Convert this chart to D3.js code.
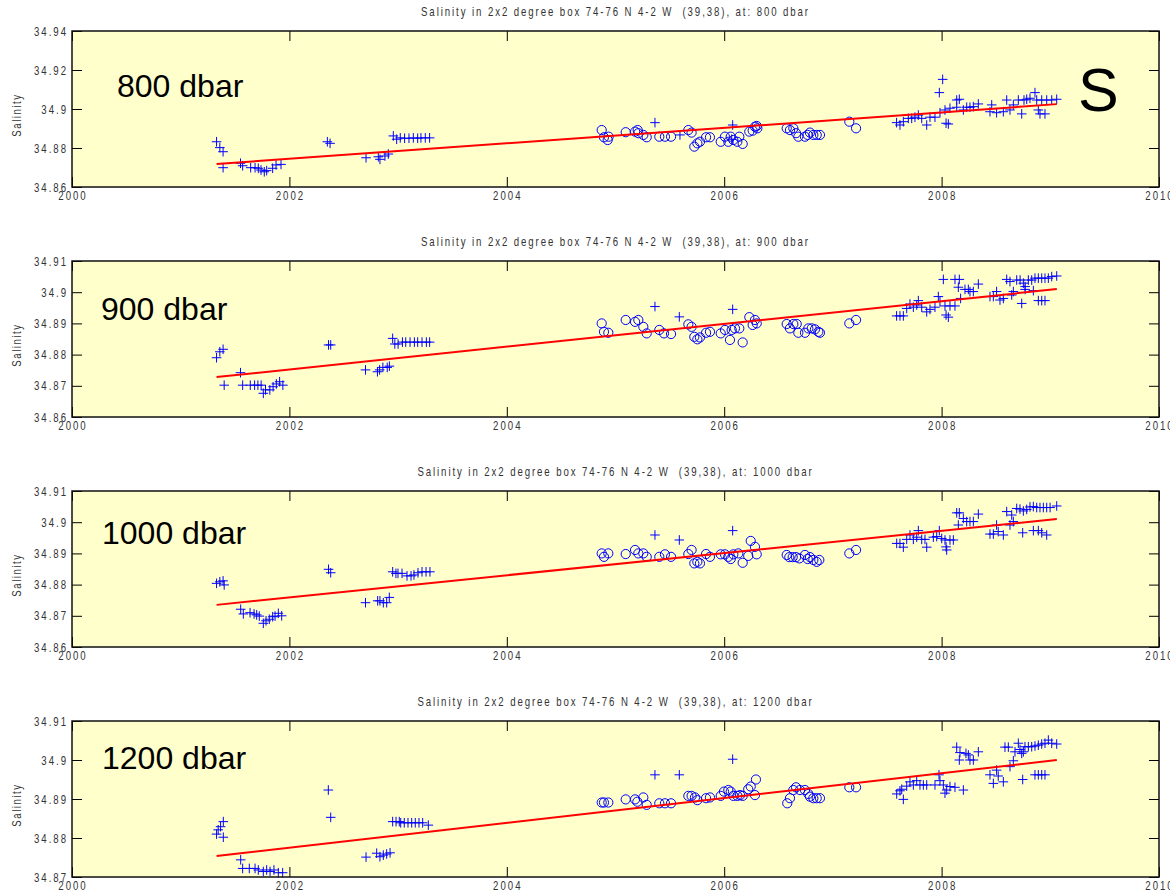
<!DOCTYPE html>
<html>
<head>
<meta charset="utf-8">
<script src="https://cdn.jsdelivr.net/npm/d3@7"></script>
<style>
  html, body { margin: 0; padding: 0; background: #fff; }
  svg text { font-family: "Liberation Sans", Arial, sans-serif; }
</style>
</head>
<body>
<svg id="chart" width="1170" height="895"></svg>
<script>
// ---- data -------------------------------------------------------------
const xTicks = [2000, 2002, 2004, 2006, 2008, 2010];
const depths = ["800", "900", "1000", "1200"];
const depthLabels = ["800 dbar", "900 dbar", "1000 dbar", "1200 dbar"];
const yTicks800  = [34.86, 34.88, 34.9, 34.92, 34.94];
const yTicks900  = [34.86, 34.87, 34.88, 34.89, 34.9, 34.91];
const yTicks1000 = [34.86, 34.87, 34.88, 34.89, 34.9, 34.91];
const yTicks1200 = [34.87, 34.88, 34.89, 34.9, 34.91];

// float profiles (+) as [decimal year, salinity]
const argo800 = [
  [2001.33,34.8832],[2001.36,34.8802],[2001.39,34.8781],[2001.39,34.8699],[2001.55,34.8722],[2001.57,34.8709],
  [2001.644,34.8699],[2001.684,34.8699],[2001.714,34.8696],[2001.739,34.8687],[2001.769,34.8678],[2001.791,34.8684],
  [2001.846,34.8696],[2001.877,34.8713],[2001.923,34.8716],
  [2002.349,34.8832],[2002.374,34.8824],[2002.705,34.8750],[2002.818,34.8755],[2002.833,34.8742],[2002.879,34.8759],
  [2002.910,34.8769],[2002.956,34.8862],[2002.987,34.8845],
  [2003.02,34.8852],[2003.06,34.8850],[2003.10,34.8850],[2003.14,34.8852],[2003.18,34.8850],[2003.21,34.8852],
  [2003.25,34.8852],[2003.29,34.8852],
  [2005.363,34.8930],[2005.593,34.8867],[2006.069,34.8845],[2006.078,34.8918],
  [2007.586,34.8930],[2007.617,34.8918],[2007.648,34.8935],[2007.694,34.8952],[2007.725,34.8952],[2007.755,34.8958],
  [2007.786,34.8969],[2007.817,34.8952],[2007.863,34.8918],[2007.893,34.8958],[2007.939,34.8958],[2007.979,34.9084],
  [2007.985,34.8981],[2008.010,34.9152],[2008.031,34.8995],[2008.041,34.8927],[2008.062,34.8923],[2008.077,34.9004],
  [2008.139,34.9046],[2008.139,34.9009],[2008.163,34.9050],[2008.200,34.8995],[2008.231,34.9009],[2008.261,34.9009],
  [2008.292,34.9012],[2008.338,34.9026],[2008.445,34.8986],[2008.461,34.9021],[2008.506,34.8981],[2008.568,34.8986],
  [2008.599,34.9046],[2008.629,34.8995],[2008.660,34.9021],[2008.706,34.9046],[2008.737,34.8975],[2008.758,34.9046],
  [2008.783,34.9050],[2008.813,34.9055],[2008.859,34.9084],[2008.875,34.9046],[2008.890,34.8995],[2008.905,34.8975],
  [2008.921,34.9046],[2008.951,34.8975],[2008.967,34.9046],[2009.013,34.9046],[2009.059,34.9050]
];
// ship stations (o) as [decimal year, salinity]
const ship800 = [
  [2004.873,34.8892],[2004.894,34.8855],[2004.928,34.8841],[2004.937,34.8858],[2005.094,34.8881],[2005.180,34.8884],
  [2005.204,34.8892],[2005.210,34.8876],[2005.256,34.8867],[2005.287,34.8855],[2005.403,34.8858],[2005.455,34.8858],
  [2005.511,34.8858],[2005.670,34.8892],[2005.700,34.8879],[2005.725,34.8807],[2005.753,34.8824],[2005.777,34.8832],
  [2005.833,34.8855],[2005.869,34.8855],[2005.968,34.8832],[2006.007,34.8858],[2006.038,34.8832],[2006.060,34.8858],
  [2006.084,34.8841],[2006.121,34.8832],[2006.139,34.8858],[2006.170,34.8821],[2006.231,34.8884],[2006.262,34.8889],
  [2006.283,34.8909],[2006.299,34.8913],[2006.305,34.8901],[2006.575,34.8901],[2006.605,34.8892],[2006.636,34.8901],
  [2006.661,34.8876],[2006.682,34.8858],[2006.743,34.8858],[2006.768,34.8867],[2006.789,34.8879],[2006.820,34.8867],
  [2006.851,34.8867],[2006.881,34.8867],[2007.151,34.8935],[2007.213,34.8901]
];
const trend800 = [[2001.33, 34.8718], [2009.06, 34.9025]];

const argo900 = [
  [2001.33,34.8790],[2001.36,34.8809],[2001.39,34.8817],[2001.40,34.8702],[2001.55,34.8742],[2001.57,34.8702],
  [2001.64,34.8702],[2001.68,34.8702],[2001.71,34.8702],[2001.74,34.8702],[2001.76,34.8676],[2001.78,34.8687],
  [2001.82,34.8687],[2001.85,34.8697],[2001.88,34.8706],[2001.91,34.8713],[2001.94,34.8702],
  [2002.36,34.8831],[2002.38,34.8831],[2002.70,34.8751],[2002.81,34.8745],[2002.83,34.8751],[2002.86,34.8759],
  [2002.90,34.8759],[2002.92,34.8763],[2002.95,34.8852],[2002.97,34.8834],[2003.00,34.8834],
  [2003.04,34.8840],[2003.07,34.8840],[2003.11,34.8840],[2003.15,34.8840],[2003.18,34.8840],[2003.22,34.8840],
  [2003.26,34.8840],[2003.29,34.8840],
  [2005.363,34.8954],[2005.587,34.8921],[2006.078,34.8945],
  [2007.586,34.8924],[2007.617,34.8924],[2007.648,34.8924],[2007.679,34.8948],[2007.709,34.8962],[2007.740,34.8952],
  [2007.771,34.8959],[2007.786,34.8973],[2007.817,34.8952],[2007.863,34.8937],[2007.893,34.8945],[2007.939,34.8952],
  [2007.970,34.8986],[2007.985,34.8970],[2008.016,34.9041],[2008.031,34.8956],[2008.041,34.8927],[2008.062,34.8920],
  [2008.077,34.8956],[2008.123,34.8956],[2008.123,34.9041],[2008.154,34.9016],[2008.163,34.9041],[2008.175,34.8980],
  [2008.215,34.9009],[2008.246,34.9009],[2008.261,34.9002],[2008.292,34.9002],[2008.338,34.9026],[2008.445,34.8986],
  [2008.476,34.8986],[2008.506,34.9002],[2008.537,34.8975],[2008.568,34.8980],[2008.599,34.9041],[2008.629,34.9034],
  [2008.645,34.8991],[2008.660,34.9002],[2008.691,34.9039],[2008.722,34.9039],[2008.737,34.8964],[2008.752,34.9029],
  [2008.768,34.9018],[2008.768,34.9009],[2008.798,34.9039],[2008.829,34.9039],[2008.844,34.9005],[2008.859,34.9045],
  [2008.890,34.9045],[2008.890,34.8973],[2008.921,34.9045],[2008.921,34.8973],[2008.951,34.9045],[2008.951,34.8973],
  [2008.982,34.9045],[2009.013,34.9050],[2009.059,34.9052]
];
const ship900 = [
  [2004.873,34.8900],[2004.894,34.8873],[2004.934,34.8870],[2005.094,34.8911],[2005.180,34.8905],[2005.210,34.8911],
  [2005.256,34.8889],[2005.287,34.8868],[2005.403,34.8879],[2005.446,34.8868],[2005.511,34.8866],[2005.670,34.8897],
  [2005.700,34.8889],[2005.725,34.8857],[2005.753,34.8849],[2005.777,34.8855],[2005.833,34.8870],[2005.869,34.8873],
  [2005.968,34.8868],[2006.007,34.8879],[2006.053,34.8847],[2006.069,34.8879],[2006.099,34.8884],[2006.139,34.8884],
  [2006.170,34.8839],[2006.231,34.8920],[2006.262,34.8895],[2006.283,34.8911],[2006.299,34.8900],[2006.575,34.8898],
  [2006.605,34.8884],[2006.636,34.8898],[2006.667,34.8898],[2006.682,34.8870],[2006.743,34.8870],[2006.774,34.8884],
  [2006.805,34.8884],[2006.835,34.8881],[2006.866,34.8873],[2006.881,34.8870],[2007.151,34.8900],[2007.213,34.8911]
];
const trend900 = [[2001.33, 34.8728], [2009.06, 34.9010]];

const argo1000 = [
  [2001.33,34.8804],[2001.36,34.8809],[2001.39,34.8812],[2001.40,34.8799],[2001.552,34.8721],[2001.576,34.8706],
  [2001.638,34.8710],[2001.675,34.8706],[2001.699,34.8703],[2001.723,34.8699],[2001.760,34.8676],[2001.785,34.8684],
  [2001.815,34.8689],[2001.846,34.8697],[2001.868,34.8699],[2001.898,34.8708],[2001.929,34.8700],
  [2002.36,34.8849],[2002.38,34.8838],[2002.70,34.8742],[2002.812,34.8748],[2002.833,34.8748],[2002.864,34.8742],
  [2002.895,34.8742],[2002.919,34.8759],[2002.95,34.8841],[2002.98,34.8836],
  [2002.999,34.8836],[2003.036,34.8836],[2003.082,34.8828],[2003.119,34.8828],[2003.146,34.8831],[2003.183,34.8838],
  [2003.220,34.8841],[2003.257,34.8841],[2003.293,34.8841],
  [2005.363,34.8959],[2005.587,34.8943],[2006.078,34.8973],
  [2007.587,34.8932],[2007.617,34.8932],[2007.648,34.8920],[2007.679,34.8945],[2007.709,34.8959],[2007.740,34.8945],
  [2007.771,34.8952],[2007.786,34.8973],[2007.817,34.8945],[2007.847,34.8945],[2007.863,34.8920],[2007.924,34.8952],
  [2007.955,34.8954],[2007.979,34.8973],[2008.001,34.8948],[2008.031,34.8943],[2008.041,34.8921],[2008.047,34.8911],
  [2008.077,34.8943],[2008.108,34.8943],[2008.139,34.9030],[2008.163,34.9030],[2008.154,34.8991],[2008.200,34.9012],
  [2008.231,34.9002],[2008.261,34.9002],[2008.292,34.9002],[2008.338,34.9026],[2008.445,34.8962],[2008.476,34.8962],
  [2008.506,34.8991],[2008.521,34.8970],[2008.568,34.8959],[2008.599,34.9034],[2008.629,34.8991],[2008.645,34.9023],
  [2008.660,34.9002],[2008.691,34.9044],[2008.721,34.9042],[2008.746,34.8966],[2008.752,34.9036],[2008.783,34.9041],
  [2008.813,34.9049],[2008.844,34.9050],[2008.875,34.9047],[2008.905,34.9047],[2008.936,34.9047],[2008.967,34.9047],
  [2008.998,34.9047],[2009.059,34.9052],[2008.844,34.8973],[2008.890,34.8973],[2008.921,34.8966],[2008.967,34.8959]
];
const ship1000 = [
  [2004.873,34.8900],[2004.894,34.8889],[2004.934,34.8900],[2005.094,34.8898],[2005.180,34.8911],[2005.210,34.8900],
  [2005.256,34.8900],[2005.287,34.8889],[2005.403,34.8889],[2005.455,34.8897],[2005.511,34.8889],[2005.670,34.8898],
  [2005.700,34.8911],[2005.725,34.8868],[2005.753,34.8873],[2005.777,34.8868],[2005.833,34.8898],[2005.869,34.8889],
  [2005.968,34.8897],[2006.007,34.8897],[2006.038,34.8889],[2006.060,34.8882],[2006.084,34.8897],[2006.130,34.8900],
  [2006.170,34.8870],[2006.221,34.8892],[2006.244,34.8940],[2006.283,34.8921],[2006.299,34.8897],[2006.575,34.8895],
  [2006.599,34.8888],[2006.630,34.8888],[2006.661,34.8888],[2006.691,34.8884],[2006.743,34.8895],[2006.768,34.8882],
  [2006.789,34.8888],[2006.820,34.8879],[2006.851,34.8873],[2006.875,34.8879],[2007.151,34.8900],[2007.213,34.8911]
];
const trend1000 = [[2001.33, 34.8735], [2009.06, 34.9010]];

const argo1200 = [
  [2001.33,34.8810],[2001.345,34.8821],[2001.367,34.8829],[2001.392,34.8842],[2001.392,34.8802],[2001.552,34.8744],
  [2001.570,34.8722],[2001.631,34.8722],[2001.684,34.8722],[2001.714,34.8718],[2001.760,34.8714],[2001.791,34.8718],
  [2001.822,34.8714],[2001.858,34.8718],[2001.898,34.8711],[2001.938,34.8711],
  [2002.358,34.8923],[2002.380,34.8853],[2002.705,34.8751],[2002.803,34.8761],[2002.833,34.8752],[2002.864,34.8756],
  [2002.895,34.8759],[2002.926,34.8762],[2002.950,34.8842],[2002.981,34.8842],[2003.011,34.8842],
  [2003.024,34.8839],[2003.057,34.8839],[2003.091,34.8839],[2003.125,34.8839],[2003.158,34.8839],[2003.192,34.8839],
  [2003.226,34.8839],[2003.278,34.8833],
  [2005.363,34.8962],[2005.587,34.8962],[2006.078,34.9002],
  [2007.587,34.8913],[2007.617,34.8921],[2007.648,34.8899],[2007.633,34.8925],[2007.679,34.8933],[2007.709,34.8944],
  [2007.740,34.8936],[2007.771,34.8947],[2007.801,34.8936],[2007.832,34.8936],[2007.863,34.8936],[2007.939,34.8936],
  [2007.976,34.8962],[2007.985,34.8947],[2008.016,34.8936],[2008.031,34.8915],[2008.047,34.8923],[2008.077,34.8932],
  [2008.123,34.8930],[2008.139,34.9033],[2008.169,34.9019],[2008.163,34.9000],[2008.200,34.8923],[2008.224,34.9017],
  [2008.246,34.9013],[2008.261,34.9000],[2008.292,34.9000],[2008.338,34.9021],[2008.445,34.8962],[2008.476,34.8940],
  [2008.506,34.8974],[2008.521,34.8959],[2008.568,34.8944],[2008.583,34.9033],[2008.614,34.9033],[2008.629,34.8983],
  [2008.660,34.8998],[2008.675,34.9021],[2008.706,34.9043],[2008.721,34.9027],[2008.737,34.9017],[2008.752,34.9021],
  [2008.767,34.9034],[2008.798,34.9034],[2008.829,34.9034],[2008.859,34.9036],[2008.890,34.9038],[2008.921,34.9041],
  [2008.951,34.9043],[2008.982,34.9051],[2009.013,34.9043],[2009.059,34.9041],[2008.746,34.8950],[2008.859,34.8962],
  [2008.890,34.8962],[2008.921,34.8962],[2008.951,34.8962]
];
const ship1200 = [
  [2004.873,34.8891],[2004.894,34.8891],[2004.934,34.8891],[2005.094,34.8899],[2005.180,34.8899],[2005.201,34.8893],
  [2005.256,34.8904],[2005.287,34.8885],[2005.403,34.8889],[2005.455,34.8889],[2005.511,34.8889],[2005.670,34.8908],
  [2005.700,34.8908],[2005.731,34.8904],[2005.753,34.8897],[2005.833,34.8902],[2005.869,34.8904],[2005.968,34.8908],
  [2005.998,34.8919],[2006.038,34.8923],[2006.060,34.8919],[2006.084,34.8908],[2006.121,34.8908],[2006.146,34.8910],
  [2006.170,34.8908],[2006.221,34.8925],[2006.244,34.8932],[2006.283,34.8910],[2006.292,34.8950],[2006.580,34.8889],
  [2006.605,34.8902],[2006.636,34.8923],[2006.661,34.8930],[2006.697,34.8923],[2006.743,34.8923],[2006.774,34.8913],
  [2006.789,34.8906],[2006.820,34.8902],[2006.851,34.8902],[2006.881,34.8902],[2007.151,34.8930],[2007.213,34.8930]
];
const trend1200 = [[2001.33, 34.8754], [2009.06, 34.9000]];

// ---- layout ------------------------------------------------------------
const svg = d3.select("#chart");
const plotLeft = 72, plotRight = 1159, panelH = 156;
const panelTops = [31, 261, 491, 721];
const labelPos = [[117, 66], [101, 59], [102, 53], [102, 48]];   // big depth label, relative to panel
const sqx = 0.77;                                                   // horizontal squeeze for axis text

const panels = [
  { depth: depths[0], label: depthLabels[0], ticks: yTicks800,  argo: argo800,  ship: ship800,  trend: trend800 },
  { depth: depths[1], label: depthLabels[1], ticks: yTicks900,  argo: argo900,  ship: ship900,  trend: trend900 },
  { depth: depths[2], label: depthLabels[2], ticks: yTicks1000, argo: argo1000, ship: ship1000, trend: trend1000 },
  { depth: depths[3], label: depthLabels[3], ticks: yTicks1200, argo: argo1200, ship: ship1200, trend: trend1200 }
];

const x = d3.scaleLinear().domain([2000, 2010]).range([plotLeft, plotRight]);
const fmtY = d => String(+d.toFixed(2));

function squeezedText(g, str, tx, ty, anchor, size, ls, rot) {
  return g.append("text")
    .attr("transform", `translate(${tx},${ty}) rotate(${rot || 0}) scale(${sqx},1)`)
    .attr("text-anchor", anchor)
    .attr("fill", "#333")
    .style("font-size", size + "px")
    .style("letter-spacing", ls + "px")
    .style("white-space", "pre")
    .text(str);
}

panels.forEach((p, i) => {
  const top = panelTops[i], bottom = top + panelH;
  const y = d3.scaleLinear().domain([p.ticks[0], p.ticks[p.ticks.length - 1]]).range([bottom, top]);
  const g = svg.append("g");

  // axes background
  g.append("rect").attr("x", plotLeft).attr("y", top)
    .attr("width", plotRight - plotLeft).attr("height", panelH)
    .attr("fill", "#ffffcc");

  // inward ticks on all four sides
  const axes = [
    [d3.axisBottom(x).tickValues(xTicks), `translate(0,${bottom})`],
    [d3.axisTop(x).tickValues(xTicks), `translate(0,${top})`],
    [d3.axisLeft(y).tickValues(p.ticks), `translate(${plotLeft},0)`],
    [d3.axisRight(y).tickValues(p.ticks), `translate(${plotRight},0)`]
  ];
  axes.forEach(([ax, tr]) => {
    const a = g.append("g").attr("transform", tr)
      .call(ax.tickSizeInner(-10).tickSizeOuter(0).tickFormat(""));
    a.select(".domain").remove();
    a.selectAll(".tick line").attr("stroke", "#000").attr("stroke-width", 1);
  });

  // tick labels
  xTicks.forEach(t => squeezedText(g, String(t), x(t) + 1, bottom + 13, "middle", 12.5, 2.6));
  p.ticks.forEach(t => squeezedText(g, fmtY(t), plotLeft - 4, y(t) + 4.5, "end", 12.5, 2.6));

  // titles
  squeezedText(g, `Salinity in 2x2 degree box 74-76 N 4-2 W  (39,38), at: ${p.depth} dbar`,
    (plotLeft + plotRight) / 2, top - 15, "middle", 12.5, 2.5);
  squeezedText(g, "Salinity", 21, top + panelH / 2 + 6, "middle", 12.5, 2, -90);

  // ship stations (circles)
  g.append("g").selectAll("circle").data(p.ship).join("circle")
    .attr("cx", d => x(d[0])).attr("cy", d => y(d[1])).attr("r", 4.6)
    .attr("fill", "none").attr("stroke", "#0000ff").attr("stroke-width", 1);

  // floats (plus signs)
  g.append("g").selectAll("path").data(p.argo).join("path")
    .attr("d", d => `M${x(d[0]) - 4.8},${y(d[1])}h9.6M${x(d[0])},${y(d[1]) - 4.8}v9.6`)
    .attr("fill", "none").attr("stroke", "#0000ff").attr("stroke-width", 1);

  // linear trend
  g.append("path").datum(p.trend)
    .attr("d", d3.line().x(d => x(d[0])).y(d => y(d[1])))
    .attr("fill", "none").attr("stroke", "#ff0000").attr("stroke-width", 2);

  // frame
  g.append("rect").attr("x", plotLeft).attr("y", top)
    .attr("width", plotRight - plotLeft).attr("height", panelH)
    .attr("fill", "none").attr("stroke", "#111").attr("stroke-width", 1.5);

  // depth annotation
  g.append("text").attr("x", labelPos[i][0]).attr("y", top + labelPos[i][1])
    .attr("fill", "#000").style("font-size", "32px").text(p.label);
});

// variable letter
svg.append("text").attr("x", 1078).attr("y", 111)
  .attr("fill", "#000").style("font-size", "61px").text("S");
</script>
</body>
</html>
